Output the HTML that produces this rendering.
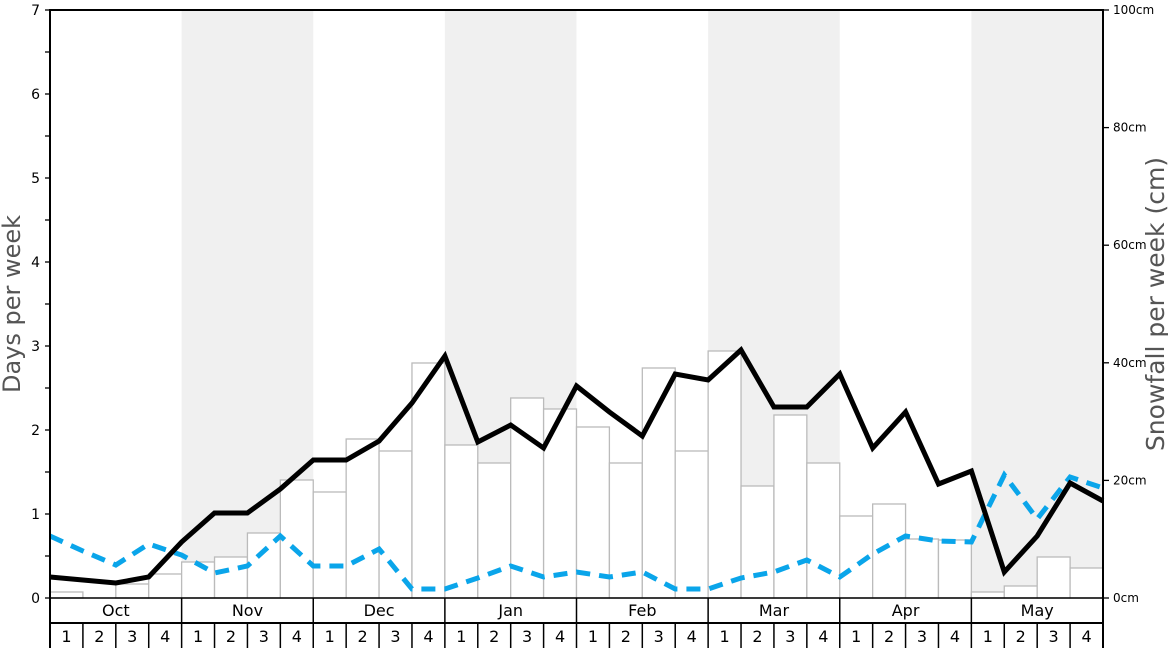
<!DOCTYPE html>
<html><head><meta charset="utf-8"><style>body{margin:0;background:#fff}svg{display:block}text{font-family:"DejaVu Sans","Liberation Sans",sans-serif}</style></head>
<body><svg id="s" width="1168" height="648" xmlns="http://www.w3.org/2000/svg"></svg>
<script>
const s=document.getElementById('s');let h='';
const L=50,R=1103,T=10,B=598,W=(R-L)/32;
const X=i=>L+i*W;
[1,3,5,7].forEach(m=>{h+=`<rect x="${X(m*4)}" y="${T}" width="${W*4}" height="${B-T}" fill="#f0f0f0"/>`});
const bars=[592,598,584,574,562,557,533,480,492,439,451,363,445,463,398,409,427,463,368,451,351,486,415,463,516,504,539,540,592,586,557,568];
bars.forEach((y,i)=>{if(y<598)h+=`<rect x="${X(i)}" y="${y}" width="${W}" height="${B-y}" fill="#fff" stroke="#bbb" stroke-width="1.3"/>`});
const blk=[577,580,583,577,542,513,513,489,460,460,441,403,356,442,425,448,386,412,436,374,380,350,407,407,374,448,412,484,471,572,536,483,501];
const blu=[536,551,565,544,555,573,566,536,566,566,549,589,589,578,566,577,572,577,572,589,589,578,572,560,577,554,536,541,542,475,519,477,488];
const pts=a=>a.map((y,i)=>X(i).toFixed(1)+','+y).join(' ');
h+=`<polyline points="${pts(blu)}" fill="none" stroke="#0aa5ea" stroke-width="5" stroke-dasharray="14,9"/>`;
h+=`<polyline points="${pts(blk)}" fill="none" stroke="#000" stroke-width="5" stroke-linejoin="miter"/>`;
h+=`<rect x="${L}" y="${T}" width="${R-L}" height="${648-T+2}" fill="none" stroke="#000" stroke-width="2"/>`;
h+=`<line x1="${L}" y1="${B}" x2="${R}" y2="${B}" stroke="#000" stroke-width="1.5"/>`;
h+=`<line x1="${L}" y1="623" x2="${R}" y2="623" stroke="#000" stroke-width="2"/>`;
const mons=['Oct','Nov','Dec','Jan','Feb','Mar','Apr','May'];
mons.forEach((m,k)=>{if(k>0)h+=`<line x1="${X(k*4)}" y1="${B}" x2="${X(k*4)}" y2="623" stroke="#000" stroke-width="1.5"/>`;
h+=`<text x="${X(k*4+2)}" y="616" font-size="16" text-anchor="middle">${m}</text>`;
for(let w=0;w<4;w++){const i=k*4+w;if(i>0)h+=`<line x1="${X(i)}" y1="623" x2="${X(i)}" y2="648" stroke="#000" stroke-width="1.5"/>`;
h+=`<text x="${X(i)+W/2}" y="642" font-size="16" text-anchor="middle">${w+1}</text>`;}});
for(let v=0;v<=14;v++){const y=B-v*42;h+=`<line x1="${L-5}" y1="${y}" x2="${L}" y2="${y}" stroke="#000" stroke-width="1.3"/>`;
if(v%2==0)h+=`<text x="${L-10}" y="${y+5}" font-size="14" text-anchor="end">${v/2}</text>`;}
for(let c=0;c<=100;c+=20){const y=B-c*5.88;h+=`<line x1="${R}" y1="${y}" x2="${R+6}" y2="${y}" stroke="#000" stroke-width="1.3"/>`;
h+=`<text x="${R+10}" y="${y+4}" font-size="12">${c}cm</text>`;}
h+=`<text transform="translate(20,304) rotate(-90)" font-size="24" fill="#555" text-anchor="middle">Days per week</text>`;
h+=`<text transform="translate(1164,304) rotate(-90)" font-size="25" fill="#555" text-anchor="middle">Snowfall per week (cm)</text>`;
s.innerHTML=h;
</script></body></html>
